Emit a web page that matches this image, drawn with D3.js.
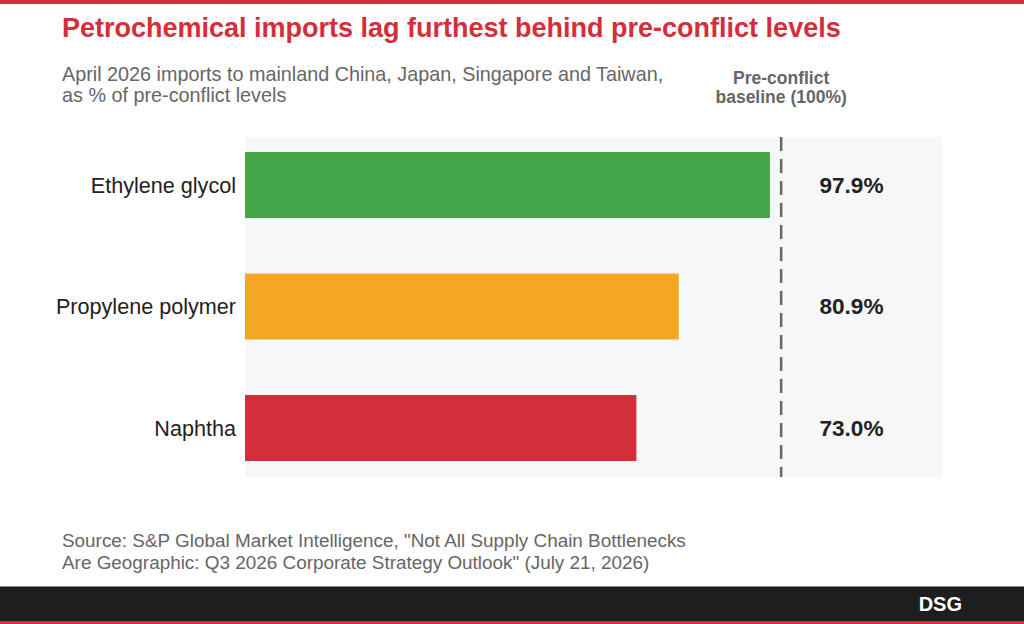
<!DOCTYPE html>
<html>
<head>
<meta charset="utf-8">
<script src="https://cdn.jsdelivr.net/npm/d3@7"></script>
<style>
  body { margin: 0; background: #fff; }
  svg { display: block; font-family: "Liberation Sans", Arial, sans-serif; }
</style>
</head>
<body>
<div id="chart"></div>
<script>
// -------- data ---------- //
var categories = ["Ethylene glycol", "Propylene polymer", "Naphtha"];
var values = [97.9, 80.9, 73.0];
var barColors = ["#43a648", "#f5a623", "#d42e3a"];
var baselineValue = 100;
var titleText = "Petrochemical imports lag furthest behind pre-conflict levels";
var subtitleLines = [
  "April 2026 imports to mainland China, Japan, Singapore and Taiwan,",
  "as % of pre-conflict levels",
];
var baselineLabel = ["Pre-conflict", "baseline (100%)"];
var sourceLines = [
  "Source: S&P Global Market Intelligence, \"Not All Supply Chain Bottlenecks",
  "Are Geographic: Q3 2026 Corporate Strategy Outlook\" (July 21, 2026)",
];
var brand = "DSG";

var W = 1024, H = 624;

var svg = d3
  .select("#chart")
  .append("svg")
  .attr("width", W)
  .attr("height", H)
  .attr("viewBox", [0, 0, W, H]);

// top red rule
svg.append("rect").attr("x", 0).attr("y", 0).attr("width", W).attr("height", 4).attr("fill", "#d42e3a");

// title + subtitle
svg
  .append("text")
  .attr("x", 62)
  .attr("y", 37)
  .attr("fill", "#d42e3a")
  .attr("font-size", 27)
  .attr("font-weight", "bold")
  .text(titleText);

svg
  .append("g")
  .selectAll("text")
  .data(subtitleLines)
  .join("text")
  .attr("x", 62)
  .attr("y", (d, i) => 81 + i * 21)
  .attr("fill", "#666")
  .attr("font-size", 19.8)
  .text((d) => d);

// scales
var plotLeft = 245, plotRight = 942, plotTop = 137, plotBottom = 477;

var x = d3.scaleLinear().domain([0, 130]).range([plotLeft, plotRight]);

var y = d3
  .scaleBand()
  .domain(categories)
  .range([152, 461])
  .paddingInner(0.457)
  .paddingOuter(0);

// plot background
svg
  .append("rect")
  .attr("x", plotLeft)
  .attr("y", plotTop)
  .attr("width", plotRight - plotLeft)
  .attr("height", plotBottom - plotTop)
  .attr("fill", "#f6f7f9");

// bars
svg
  .append("g")
  .selectAll("rect")
  .data(categories)
  .join("rect")
  .attr("x", x(0))
  .attr("y", (d) => y(d))
  .attr("width", (d, i) => x(values[i]) - x(0))
  .attr("height", y.bandwidth())
  .attr("fill", (d, i) => barColors[i]);

// baseline dashed line
svg
  .append("line")
  .attr("x1", x(baselineValue))
  .attr("x2", x(baselineValue))
  .attr("y1", plotTop)
  .attr("y2", plotBottom)
  .attr("stroke", "#666")
  .attr("stroke-width", 2.5)
  .attr("stroke-dasharray", "14,8");

svg
  .append("g")
  .selectAll("text")
  .data(baselineLabel)
  .join("text")
  .attr("x", x(baselineValue))
  .attr("y", (d, i) => 84 + i * 19)
  .attr("text-anchor", "middle")
  .attr("fill", "#666")
  .attr("font-size", 17.5)
  .attr("font-weight", "bold")
  .text((d) => d);

// category labels
svg
  .append("g")
  .selectAll("text")
  .data(categories)
  .join("text")
  .attr("x", plotLeft - 9)
  .attr("y", (d) => y(d) + y.bandwidth() / 2)
  .attr("dy", "0.35em")
  .attr("text-anchor", "end")
  .attr("fill", "#222")
  .attr("font-size", 21.6)
  .text((d) => d);

// value labels
svg
  .append("g")
  .selectAll("text")
  .data(values)
  .join("text")
  .attr("x", 851.5)
  .attr("y", (d, i) => y(categories[i]) + y.bandwidth() / 2)
  .attr("dy", "0.35em")
  .attr("text-anchor", "middle")
  .attr("fill", "#222")
  .attr("font-size", 22.6)
  .attr("font-weight", "bold")
  .text((d) => d.toFixed(1) + "%");

// source
svg
  .append("g")
  .selectAll("text")
  .data(sourceLines)
  .join("text")
  .attr("x", 62)
  .attr("y", (d, i) => 547 + i * 21.5)
  .attr("fill", "#666")
  .attr("font-size", 18.9)
  .text((d) => d);

// footer
svg.append("rect").attr("x", 0).attr("y", 586).attr("width", W).attr("height", 35).attr("fill", "#1e1e1e");
svg.append("rect").attr("x", 0).attr("y", 586).attr("width", W).attr("height", 1).attr("fill", "#888");
svg.append("rect").attr("x", 0).attr("y", 621).attr("width", W).attr("height", 3).attr("fill", "#d42e3a");
svg
  .append("text")
  .attr("x", 962)
  .attr("y", 611)
  .attr("text-anchor", "end")
  .attr("fill", "#fff")
  .attr("font-size", 20)
  .attr("font-weight", "bold")
  .text(brand);
</script>
</body>
</html>
